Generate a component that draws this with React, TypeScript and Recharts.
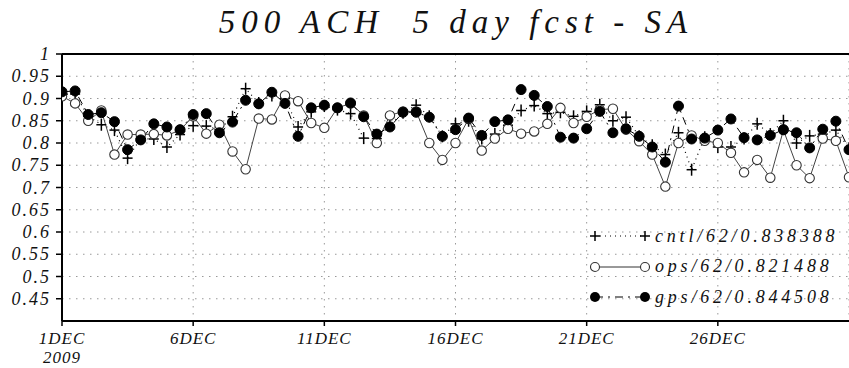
import React from "react";
import { LineChart, Line, XAxis, YAxis, CartesianGrid, ReferenceLine, Legend } from "recharts";

// time offsets in days from 1DEC2009 00Z (12-hourly)
const times = [
  0, 0.5, 1, 1.5, 2, 2.5, 3, 3.5, 4, 4.5, 5, 5.5, 6, 6.5, 7, 7.5, 8, 8.5, 9, 9.5,
  10, 10.5, 11, 11.5, 12, 12.5, 13, 13.5, 14, 14.5, 15, 15.5, 16, 16.5, 17, 17.5, 18, 18.5, 19, 19.5,
  20, 20.5, 21, 21.5, 22, 22.5, 23, 23.5, 24, 24.5, 25, 25.5, 26, 26.5, 27, 27.5, 28, 28.5, 29, 29.5, 30,
];

const cntl = [
  0.91, 0.91, 0.86, 0.841, 0.829, 0.766, 0.81, 0.809, 0.791, 0.819,
  0.839, 0.838, 0.83, 0.859, 0.922, 0.89, 0.907, 0.9, 0.836, 0.87,
  0.883, 0.875, 0.866, 0.811, 0.81, 0.84, 0.868, 0.885, 0.86, 0.815,
  0.843, 0.85, 0.81, 0.82, 0.84, 0.873, 0.884, 0.866, 0.869, 0.86,
  0.871, 0.886, 0.85, 0.858, 0.815, 0.795, 0.774, 0.823, 0.74, 0.813,
  0.791, 0.791, 0.81, 0.843, 0.82, 0.85, 0.8, 0.816, 0.82, 0.829, 0.788,
];

const ops = [
  0.905, 0.889, 0.85, 0.873, 0.774, 0.819, 0.819, 0.82, 0.817, 0.829,
  0.86, 0.821, 0.841, 0.781, 0.741, 0.855, 0.853, 0.907, 0.894, 0.845,
  0.834, 0.879, 0.889, 0.862, 0.8, 0.862, 0.871, 0.871, 0.8, 0.762,
  0.8, 0.854, 0.783, 0.81, 0.832, 0.821, 0.826, 0.843, 0.879, 0.845,
  0.859, 0.875, 0.877, 0.83, 0.804, 0.774, 0.702, 0.8, 0.817, 0.805,
  0.8, 0.778, 0.734, 0.762, 0.722, 0.829, 0.75, 0.721, 0.81, 0.805, 0.723,
];

const gps = [
  0.915, 0.917, 0.864, 0.868, 0.848, 0.785, 0.807, 0.843, 0.836, 0.83,
  0.864, 0.866, 0.823, 0.847, 0.896, 0.888, 0.914, 0.889, 0.815, 0.879,
  0.885, 0.879, 0.89, 0.859, 0.82, 0.836, 0.869, 0.869, 0.858, 0.815,
  0.83, 0.856, 0.817, 0.848, 0.852, 0.92, 0.907, 0.882, 0.813, 0.811,
  0.832, 0.871, 0.823, 0.832, 0.815, 0.791, 0.757, 0.883, 0.809, 0.811,
  0.829, 0.854, 0.812, 0.807, 0.817, 0.83, 0.823, 0.789, 0.831, 0.849, 0.785,
];

const xTicks = [0, 5, 10, 15, 20, 25];
const xTickLabels = ["1DEC", "6DEC", "11DEC", "16DEC", "21DEC", "26DEC"];
const yTicks = [0.45, 0.5, 0.55, 0.6, 0.65, 0.7, 0.75, 0.8, 0.85, 0.9, 0.95, 1];
const yTickLabels = ["0.45", "0.5", "0.55", "0.6", "0.65", "0.7", "0.75", "0.8", "0.85", "0.9", "0.95", "1"];

const legendItems = [
  { key: "cntl", label: "cntl/62/0.838388" },
  { key: "ops", label: "ops/62/0.821488" },
  { key: "gps", label: "gps/62/0.844508" },
];

const data = times.map((t, i) => ({ t, cntl: cntl[i], ops: ops[i], gps: gps[i] }));

const FONT = "'Liberation Serif', 'DejaVu Serif', serif";

const PlusDot = (p: any) => {
  const { cx, cy, index } = p;
  if (cx == null || cy == null) return <g key={"c" + index} />;
  return (
    <g key={"c" + index}>
      <line x1={cx - 5} y1={cy} x2={cx + 5} y2={cy} stroke="#000" strokeWidth={1.5} />
      <line x1={cx} y1={cy - 6} x2={cx} y2={cy + 6} stroke="#000" strokeWidth={1.5} />
    </g>
  );
};

const OpenDot = (p: any) => {
  const { cx, cy, index } = p;
  if (cx == null || cy == null) return <g key={"o" + index} />;
  return <circle key={"o" + index} cx={cx} cy={cy} r={4.7} fill="#fff" stroke="#333" strokeWidth={1.1} />;
};

const FillDot = (p: any) => {
  const { cx, cy, index } = p;
  if (cx == null || cy == null) return <g key={"g" + index} />;
  return <circle key={"g" + index} cx={cx} cy={cy} r={5} fill="#000" stroke="#000" />;
};

const XTick = (p: any) => {
  const { x, payload, index } = p;
  const label = xTickLabels[xTicks.indexOf(payload.value)] ?? "";
  return (
    <g>
      <text x={x} y={344} textAnchor="middle" fontFamily={FONT} fontStyle="italic" fontSize={17} letterSpacing={1} fill="#111">
        {label}
      </text>
      {index === 0 && (
        <text x={x} y={363} textAnchor="middle" fontFamily={FONT} fontStyle="italic" fontSize={17} letterSpacing={1} fill="#111">
          2009
        </text>
      )}
    </g>
  );
};

const YTick = (p: any) => {
  const { y, payload } = p;
  const label = yTickLabels[yTicks.indexOf(payload.value)] ?? "";
  return (
    <text x={51} y={y + 6} textAnchor="end" fontFamily={FONT} fontStyle="italic" fontSize={18} letterSpacing={2} fill="#111">
      {label}
    </text>
  );
};

const LegendSymbol = ({ kind }: { kind: string }) => {
  const y = 9;
  if (kind === "cntl") {
    return (
      <svg width={60} height={18} style={{ display: "block" }}>
        <line x1={5} y1={y} x2={55} y2={y} stroke="#000" strokeDasharray="1 4" strokeWidth={1.2} />
        <line x1={0} y1={y} x2={10} y2={y} stroke="#000" strokeWidth={1.5} />
        <line x1={5} y1={y - 5} x2={5} y2={y + 5} stroke="#000" strokeWidth={1.5} />
        <line x1={50} y1={y} x2={60} y2={y} stroke="#000" strokeWidth={1.5} />
        <line x1={55} y1={y - 5} x2={55} y2={y + 5} stroke="#000" strokeWidth={1.5} />
      </svg>
    );
  }
  if (kind === "ops") {
    return (
      <svg width={60} height={18} style={{ display: "block" }}>
        <line x1={5} y1={y} x2={55} y2={y} stroke="#333" strokeWidth={1} />
        <circle cx={5} cy={y} r={4.5} fill="#fff" stroke="#333" strokeWidth={1.1} />
        <circle cx={55} cy={y} r={4.5} fill="#fff" stroke="#333" strokeWidth={1.1} />
      </svg>
    );
  }
  return (
    <svg width={60} height={18} style={{ display: "block" }}>
      <line x1={5} y1={y} x2={55} y2={y} stroke="#000" strokeDasharray="8 5 2 5" strokeWidth={1} />
      <circle cx={5} cy={y} r={5} fill="#000" />
      <circle cx={55} cy={y} r={5} fill="#000" />
    </svg>
  );
};

const LegendContent = () => (
  <div style={{ fontFamily: FONT, fontStyle: "italic", fontSize: 18, letterSpacing: 3.8, color: "#111" }}>
    {legendItems.map((it) => (
      <div key={it.key} style={{ display: "flex", alignItems: "center", height: 30.5 }}>
        <LegendSymbol kind={it.key} />
        <span style={{ marginLeft: 5 }}>{it.label}</span>
      </div>
    ))}
  </div>
);

export default function App() {
  return (
    <div style={{ position: "absolute", left: 0, top: 0, width: 849, height: 368, background: "#fff" }}>
      <div
        style={{
          position: "absolute",
          left: 0,
          top: 2,
          width: 912,
          textAlign: "center",
          fontFamily: FONT,
          fontStyle: "italic",
          fontSize: 33,
          letterSpacing: 6,
          whiteSpace: "pre",
          color: "#111",
          lineHeight: "40px",
        }}
      >
        500 ACH  5 day fcst - SA
      </div>
      <LineChart width={849} height={368} data={data} margin={{ top: 54, right: 0, bottom: 0, left: 0 }}>
        <CartesianGrid stroke="#999" strokeDasharray="1.5 5.5" />
        <XAxis
          type="number"
          dataKey="t"
          domain={[0, 30]}
          ticks={xTicks}
          allowDataOverflow
          axisLine={{ stroke: "#000", strokeWidth: 2 }}
          tickLine={{ stroke: "#000", strokeWidth: 1.5 }}
          tickSize={5}
          tick={<XTick />}
          interval={0}
          height={47}
        />
        <YAxis
          type="number"
          domain={[0.4, 1]}
          ticks={yTicks}
          allowDataOverflow
          axisLine={{ stroke: "#000", strokeWidth: 2 }}
          tickLine={{ stroke: "#000", strokeWidth: 1.5 }}
          tickSize={6}
          tick={<YTick />}
          interval={0}
          width={62}
        />
        <ReferenceLine y={1} stroke="#000" strokeWidth={2} />
        <Line dataKey="cntl" stroke="#000" strokeWidth={1.2} strokeDasharray="1 4" dot={PlusDot} isAnimationActive={false} />
        <Line dataKey="ops" stroke="#444" strokeWidth={1} dot={OpenDot} isAnimationActive={false} />
        <Line dataKey="gps" stroke="#000" strokeWidth={1} strokeDasharray="8 5 2 5" dot={FillDot} isAnimationActive={false} />
        <Legend
          layout="vertical"
          align="center"
          verticalAlign="middle"
          content={<LegendContent />}
          wrapperStyle={{ left: 590, top: 221, width: 262 }}
        />
      </LineChart>
    </div>
  );
}
